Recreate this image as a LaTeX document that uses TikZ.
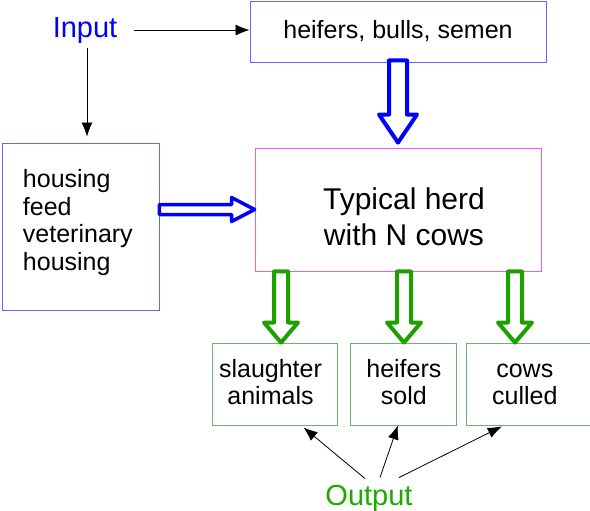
\documentclass[tikz,border=0pt]{standalone}
\usepackage{fontspec}
\setmainfont{Liberation Sans}
\usetikzlibrary{arrows.meta,positioning,calc}

\definecolor{boxblue}{RGB}{100,100,255}
\definecolor{boxpink}{RGB}{240,90,240}
\definecolor{boxgreen}{RGB}{105,180,105}
\definecolor{arrowgreen}{RGB}{30,160,0}
\definecolor{textgreen}{RGB}{30,170,0}

% hollow block arrow: style, from, to, half shaft, half head, head length
\newcommand{\fatarrow}[6]{%
  \coordinate (fa-s) at (#2);
  \coordinate (fa-t) at (#3);
  \coordinate (fa-h) at ($(fa-t)!#6!(fa-s)$);
  \draw[#1] ($(fa-s)!#4!90:(fa-t)$) -- ($(fa-h)!#4!-90:(fa-s)$)
    -- ($(fa-h)!#5!-90:(fa-s)$) -- (fa-t) -- ($(fa-h)!#5!90:(fa-s)$)
    -- ($(fa-h)!#4!90:(fa-s)$) -- ($(fa-s)!#4!-90:(fa-t)$) -- cycle;
}
% invisible struts and gaps to set where the text sits
\newcommand{\uprule}[1]{\rule{0pt}{#1}}
\newcommand{\downrule}[1]{\rule[-#1]{0pt}{#1}}
\newcommand{\gap}[1]{\hspace*{#1}}

\tikzset{
  box/.style={draw,line width=0.9pt,inner sep=0pt,align=center,
    font=\fontsize{25}{27.5}\selectfont},
  outbox/.style={box,draw=boxgreen,minimum height=82pt,
    font=\fontsize{25}{27}\selectfont},
  label/.style={inner sep=0pt,anchor=base,font=\fontsize{29}{33}\selectfont},
  plainarrow/.style={-{Latex[length=14pt,width=11pt]},line width=0.8pt},
  bluefat/.style={draw=blue,fill=white,line join=round},
  greenfat/.style={draw=arrowgreen,fill=white,line width=4pt,line join=round}
}

\begin{document}
\begin{tikzpicture}[x=1pt,y=-1pt]
  \useasboundingbox (0,0) rectangle (590,511);

  \node[label,text=blue] (input) at (85,38) {Input};
  \node[box,draw=boxblue,minimum width=296pt,minimum height=61pt] (stock)
    at (398,31.5) {heifers, bulls, semen};
  \node[box,draw=boxblue,minimum width=157pt,minimum height=167pt,
    text width=115pt,align=left] (housing) at (80.5,226.5)
    {housing\\feed\\veterinary\\housing\downrule{13pt}};
  \node[box,draw=boxpink,minimum width=286pt,minimum height=123pt,
    font=\fontsize{30}{36}\selectfont] (herd) at (398,209.5)
    {\uprule{36pt}\gap{12pt}Typical herd\\\gap{12pt}with N cows};

  \node[outbox,minimum width=125pt] (slaughter)
    at (274.5,384) {slaughter\gap{8pt}\\animals\gap{8pt}\downrule{5pt}};
  \node[outbox,minimum width=106pt,right=13pt of slaughter] (sold)
    {heifers\\sold\downrule{5pt}};
  \node[outbox,minimum width=124pt,right=9pt of sold] (culled)
    {\uprule{18pt}cows\gap{8pt}\\culled\gap{8pt}\downrule{5pt}};
  \node[label,text=textgreen] (output) at (369,505) {Output};

  % input arrows
  \draw[plainarrow] ($(input.east)+(17,-1)$) -- ($(input.east -| stock.west)+(0,-1)$);
  \coordinate (in-dn) at ($(input.south)+(2,4)$);
  \draw[plainarrow,shorten >=6pt] (in-dn) -- (in-dn |- housing.north);

  % block arrows
  \fatarrow{bluefat,line width=4pt}{$(stock.south)+(0,-2)$}{$(herd.north)+(0,-5)$}{9pt}{19pt}{28pt}
  \fatarrow{bluefat,line width=3.5pt}{housing.east |- herd.west}{herd.west}{5pt}{12pt}{23pt}
  \coordinate (g1) at ($(herd.south)+(-117,0)$);
  \coordinate (g2) at ($(herd.south)+(6,0)$);
  \coordinate (g3) at ($(herd.south)+(117,0)$);
  \fatarrow{greenfat}{g1}{g1 |- slaughter.north}{7pt}{17pt}{20pt}
  \fatarrow{greenfat}{g2}{g2 |- sold.north}{7pt}{17pt}{20pt}
  \fatarrow{greenfat}{g3}{g3 |- culled.north}{7pt}{17pt}{20pt}

  % output arrows
  \draw[plainarrow] ($(output.north)+(-4,-6)$) -- ($(slaughter.south)+(29,2)$);
  \draw[plainarrow] ($(output.north)+(11,-7)$) -- ($(sold.south)+(-6,0)$);
  \draw[plainarrow] ($(output.north)+(30,-7)$) -- ($(culled.south)+(-27,1)$);
\end{tikzpicture}
\end{document}
